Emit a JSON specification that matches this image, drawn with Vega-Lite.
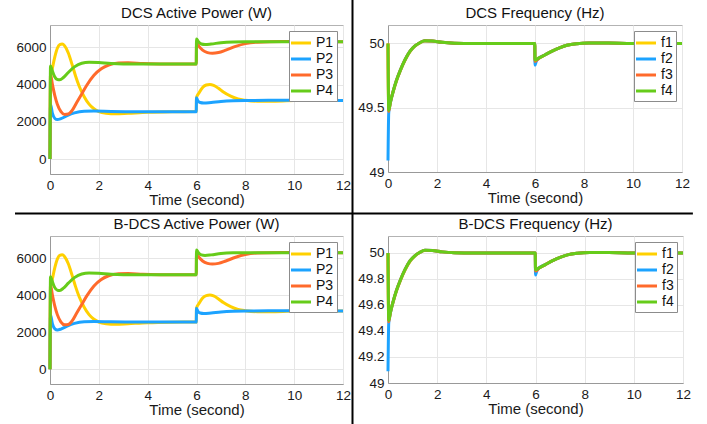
{
  "$schema": "https://vega.github.io/schema/vega-lite/v6.json",
  "padding": {"left": 13, "top": -2, "right": 0, "bottom": 0},
  "background": "white",
  "datasets": {
    "power": [
      {"t": 0, "s": "P1", "v": 0}, {"t": 0.02, "s": "P1", "v": 4400}, {"t": 0.1, "s": "P1", "v": 4900}, {"t": 0.2, "s": "P1", "v": 5500}, {"t": 0.3, "s": "P1", "v": 5950}, {"t": 0.4, "s": "P1", "v": 6150}, {"t": 0.5, "s": "P1", "v": 6180}, {"t": 0.6, "s": "P1", "v": 6080}, {"t": 0.75, "s": "P1", "v": 5700}, {"t": 0.9, "s": "P1", "v": 5100}, {"t": 1.05, "s": "P1", "v": 4450}, {"t": 1.2, "s": "P1", "v": 3900}, {"t": 1.4, "s": "P1", "v": 3350}, {"t": 1.6, "s": "P1", "v": 2950}, {"t": 1.8, "s": "P1", "v": 2700}, {"t": 2.0, "s": "P1", "v": 2550}, {"t": 2.3, "s": "P1", "v": 2460}, {"t": 2.7, "s": "P1", "v": 2430}, {"t": 3.2, "s": "P1", "v": 2460}, {"t": 4, "s": "P1", "v": 2510}, {"t": 5, "s": "P1", "v": 2540}, {"t": 5.99, "s": "P1", "v": 2550}, {"t": 6.0, "s": "P1", "v": 3300}, {"t": 6.1, "s": "P1", "v": 3550}, {"t": 6.25, "s": "P1", "v": 3850}, {"t": 6.4, "s": "P1", "v": 3980}, {"t": 6.55, "s": "P1", "v": 4010}, {"t": 6.7, "s": "P1", "v": 3960}, {"t": 6.9, "s": "P1", "v": 3800}, {"t": 7.1, "s": "P1", "v": 3600}, {"t": 7.4, "s": "P1", "v": 3380}, {"t": 7.7, "s": "P1", "v": 3230}, {"t": 8.0, "s": "P1", "v": 3160}, {"t": 8.5, "s": "P1", "v": 3110}, {"t": 9, "s": "P1", "v": 3110}, {"t": 10, "s": "P1", "v": 3140}, {"t": 12, "s": "P1", "v": 3150},
      {"t": 0, "s": "P2", "v": 0}, {"t": 0.02, "s": "P2", "v": 2950}, {"t": 0.1, "s": "P2", "v": 2450}, {"t": 0.2, "s": "P2", "v": 2180}, {"t": 0.3, "s": "P2", "v": 2120}, {"t": 0.45, "s": "P2", "v": 2170}, {"t": 0.7, "s": "P2", "v": 2330}, {"t": 1.0, "s": "P2", "v": 2480}, {"t": 1.4, "s": "P2", "v": 2570}, {"t": 1.8, "s": "P2", "v": 2580}, {"t": 2.5, "s": "P2", "v": 2560}, {"t": 3.5, "s": "P2", "v": 2545}, {"t": 5.99, "s": "P2", "v": 2545}, {"t": 6.0, "s": "P2", "v": 3300}, {"t": 6.05, "s": "P2", "v": 3150}, {"t": 6.15, "s": "P2", "v": 3040}, {"t": 6.3, "s": "P2", "v": 3010}, {"t": 6.6, "s": "P2", "v": 3040}, {"t": 7.0, "s": "P2", "v": 3090}, {"t": 7.5, "s": "P2", "v": 3130}, {"t": 8, "s": "P2", "v": 3150}, {"t": 9, "s": "P2", "v": 3155}, {"t": 12, "s": "P2", "v": 3150},
      {"t": 0, "s": "P3", "v": 0}, {"t": 0.02, "s": "P3", "v": 4550}, {"t": 0.1, "s": "P3", "v": 4000}, {"t": 0.2, "s": "P3", "v": 3400}, {"t": 0.3, "s": "P3", "v": 2950}, {"t": 0.45, "s": "P3", "v": 2550}, {"t": 0.6, "s": "P3", "v": 2400}, {"t": 0.75, "s": "P3", "v": 2420}, {"t": 0.9, "s": "P3", "v": 2600}, {"t": 1.1, "s": "P3", "v": 3050}, {"t": 1.3, "s": "P3", "v": 3500}, {"t": 1.5, "s": "P3", "v": 3950}, {"t": 1.8, "s": "P3", "v": 4500}, {"t": 2.1, "s": "P3", "v": 4850}, {"t": 2.4, "s": "P3", "v": 5050}, {"t": 2.8, "s": "P3", "v": 5160}, {"t": 3.2, "s": "P3", "v": 5170}, {"t": 3.8, "s": "P3", "v": 5130}, {"t": 4.5, "s": "P3", "v": 5110}, {"t": 5.99, "s": "P3", "v": 5100}, {"t": 6.0, "s": "P3", "v": 6250}, {"t": 6.1, "s": "P3", "v": 6050}, {"t": 6.25, "s": "P3", "v": 5850}, {"t": 6.45, "s": "P3", "v": 5720}, {"t": 6.65, "s": "P3", "v": 5680}, {"t": 6.9, "s": "P3", "v": 5720}, {"t": 7.2, "s": "P3", "v": 5850}, {"t": 7.6, "s": "P3", "v": 6050}, {"t": 8.0, "s": "P3", "v": 6200}, {"t": 8.5, "s": "P3", "v": 6280}, {"t": 9.5, "s": "P3", "v": 6310}, {"t": 12, "s": "P3", "v": 6300},
      {"t": 0, "s": "P4", "v": 0}, {"t": 0.02, "s": "P4", "v": 5000}, {"t": 0.08, "s": "P4", "v": 4800}, {"t": 0.18, "s": "P4", "v": 4450}, {"t": 0.3, "s": "P4", "v": 4270}, {"t": 0.4, "s": "P4", "v": 4260}, {"t": 0.55, "s": "P4", "v": 4380}, {"t": 0.75, "s": "P4", "v": 4650}, {"t": 1.0, "s": "P4", "v": 4950}, {"t": 1.3, "s": "P4", "v": 5150}, {"t": 1.6, "s": "P4", "v": 5200}, {"t": 2.0, "s": "P4", "v": 5180}, {"t": 2.5, "s": "P4", "v": 5130}, {"t": 3.5, "s": "P4", "v": 5100}, {"t": 5.99, "s": "P4", "v": 5100}, {"t": 6.0, "s": "P4", "v": 6450}, {"t": 6.08, "s": "P4", "v": 6300}, {"t": 6.2, "s": "P4", "v": 6180}, {"t": 6.35, "s": "P4", "v": 6150}, {"t": 6.6, "s": "P4", "v": 6180}, {"t": 7.0, "s": "P4", "v": 6250}, {"t": 7.5, "s": "P4", "v": 6290}, {"t": 8, "s": "P4", "v": 6300}, {"t": 12, "s": "P4", "v": 6300}
    ],
    "freq": [
      {"t": 0, "s": "f1", "v": 50.0}, {"t": 0.03, "s": "f1", "v": 49.49}, {"t": 0.1, "s": "f1", "v": 49.545}, {"t": 0.2, "s": "f1", "v": 49.615}, {"t": 0.35, "s": "f1", "v": 49.71}, {"t": 0.5, "s": "f1", "v": 49.785}, {"t": 0.7, "s": "f1", "v": 49.87}, {"t": 0.9, "s": "f1", "v": 49.935}, {"t": 1.1, "s": "f1", "v": 49.978}, {"t": 1.3, "s": "f1", "v": 50.004}, {"t": 1.5, "s": "f1", "v": 50.019}, {"t": 1.8, "s": "f1", "v": 50.018}, {"t": 2.2, "s": "f1", "v": 50.008}, {"t": 2.7, "s": "f1", "v": 50.002}, {"t": 3.5, "s": "f1", "v": 50.0}, {"t": 5.99, "s": "f1", "v": 50.0}, {"t": 6.0, "s": "f1", "v": 49.87}, {"t": 6.15, "s": "f1", "v": 49.885}, {"t": 6.4, "s": "f1", "v": 49.91}, {"t": 6.7, "s": "f1", "v": 49.94}, {"t": 7.0, "s": "f1", "v": 49.965}, {"t": 7.3, "s": "f1", "v": 49.985}, {"t": 7.7, "s": "f1", "v": 49.998}, {"t": 8.2, "s": "f1", "v": 50.004}, {"t": 9, "s": "f1", "v": 50.003}, {"t": 10, "s": "f1", "v": 50.0}, {"t": 12, "s": "f1", "v": 50.0},
      {"t": 0, "s": "f2", "v": 49.09}, {"t": 0.03, "s": "f2", "v": 49.46}, {"t": 0.1, "s": "f2", "v": 49.54}, {"t": 0.2, "s": "f2", "v": 49.62}, {"t": 0.35, "s": "f2", "v": 49.715}, {"t": 0.5, "s": "f2", "v": 49.79}, {"t": 0.7, "s": "f2", "v": 49.875}, {"t": 0.9, "s": "f2", "v": 49.94}, {"t": 1.1, "s": "f2", "v": 49.98}, {"t": 1.3, "s": "f2", "v": 50.005}, {"t": 1.5, "s": "f2", "v": 50.02}, {"t": 1.8, "s": "f2", "v": 50.018}, {"t": 2.2, "s": "f2", "v": 50.008}, {"t": 2.7, "s": "f2", "v": 50.002}, {"t": 3.5, "s": "f2", "v": 50.0}, {"t": 5.99, "s": "f2", "v": 50.0}, {"t": 6.0, "s": "f2", "v": 49.83}, {"t": 6.05, "s": "f2", "v": 49.86}, {"t": 6.15, "s": "f2", "v": 49.885}, {"t": 6.4, "s": "f2", "v": 49.91}, {"t": 6.7, "s": "f2", "v": 49.94}, {"t": 7.0, "s": "f2", "v": 49.965}, {"t": 7.3, "s": "f2", "v": 49.985}, {"t": 7.7, "s": "f2", "v": 49.998}, {"t": 8.2, "s": "f2", "v": 50.004}, {"t": 9, "s": "f2", "v": 50.003}, {"t": 10, "s": "f2", "v": 50.0}, {"t": 12, "s": "f2", "v": 50.0},
      {"t": 0, "s": "f3", "v": 50.0}, {"t": 0.03, "s": "f3", "v": 49.47}, {"t": 0.1, "s": "f3", "v": 49.545}, {"t": 0.2, "s": "f3", "v": 49.62}, {"t": 0.35, "s": "f3", "v": 49.715}, {"t": 0.5, "s": "f3", "v": 49.79}, {"t": 0.7, "s": "f3", "v": 49.875}, {"t": 0.9, "s": "f3", "v": 49.94}, {"t": 1.1, "s": "f3", "v": 49.98}, {"t": 1.3, "s": "f3", "v": 50.005}, {"t": 1.5, "s": "f3", "v": 50.02}, {"t": 1.8, "s": "f3", "v": 50.018}, {"t": 2.2, "s": "f3", "v": 50.008}, {"t": 2.7, "s": "f3", "v": 50.002}, {"t": 3.5, "s": "f3", "v": 50.0}, {"t": 5.99, "s": "f3", "v": 50.0}, {"t": 6.0, "s": "f3", "v": 49.86}, {"t": 6.15, "s": "f3", "v": 49.883}, {"t": 6.4, "s": "f3", "v": 49.91}, {"t": 6.7, "s": "f3", "v": 49.94}, {"t": 7.0, "s": "f3", "v": 49.965}, {"t": 7.3, "s": "f3", "v": 49.985}, {"t": 7.7, "s": "f3", "v": 49.998}, {"t": 8.2, "s": "f3", "v": 50.004}, {"t": 9, "s": "f3", "v": 50.003}, {"t": 10, "s": "f3", "v": 50.0}, {"t": 12, "s": "f3", "v": 50.0},
      {"t": 0, "s": "f4", "v": 50.0}, {"t": 0.03, "s": "f4", "v": 49.48}, {"t": 0.1, "s": "f4", "v": 49.545}, {"t": 0.2, "s": "f4", "v": 49.62}, {"t": 0.35, "s": "f4", "v": 49.715}, {"t": 0.5, "s": "f4", "v": 49.79}, {"t": 0.7, "s": "f4", "v": 49.875}, {"t": 0.9, "s": "f4", "v": 49.94}, {"t": 1.1, "s": "f4", "v": 49.98}, {"t": 1.3, "s": "f4", "v": 50.005}, {"t": 1.5, "s": "f4", "v": 50.02}, {"t": 1.8, "s": "f4", "v": 50.018}, {"t": 2.2, "s": "f4", "v": 50.008}, {"t": 2.7, "s": "f4", "v": 50.002}, {"t": 3.5, "s": "f4", "v": 50.0}, {"t": 5.99, "s": "f4", "v": 50.0}, {"t": 6.0, "s": "f4", "v": 49.87}, {"t": 6.15, "s": "f4", "v": 49.885}, {"t": 6.4, "s": "f4", "v": 49.91}, {"t": 6.7, "s": "f4", "v": 49.94}, {"t": 7.0, "s": "f4", "v": 49.965}, {"t": 7.3, "s": "f4", "v": 49.985}, {"t": 7.7, "s": "f4", "v": 49.998}, {"t": 8.2, "s": "f4", "v": 50.004}, {"t": 9, "s": "f4", "v": 50.003}, {"t": 10, "s": "f4", "v": 50.0}, {"t": 12, "s": "f4", "v": 50.0}
    ]
  },
  "bounds": "flush",
  "columns": 2,
  "spacing": {"row": 62, "column": 45},
  "resolve": {"scale": {"x": "independent", "y": "independent", "color": "independent"}, "legend": {"color": "independent"}, "axis": {"x": "independent", "y": "independent"}},
  "concat": [
    {
      "width": 293, "height": 149,
      "title": {"text": "DCS Active Power (W)", "offset": -22},
      "layer": [
        {
          "data": {"name": "power"},
          "mark": {"type": "line", "strokeWidth": 3, "interpolate": "monotone"},
          "encoding": {
            "x": {"field": "t", "type": "quantitative", "scale": {"domain": [0, 12], "nice": false}, "axis": {"title": "Time (second)", "values": [0, 2, 4, 6, 8, 10, 12]}},
            "y": {"field": "v", "type": "quantitative", "scale": {"domain": [-800, 7200], "nice": false, "zero": false}, "axis": {"title": null, "values": [0, 2000, 4000, 6000], "format": "d"}},
            "color": {"field": "s", "type": "nominal", "scale": {"domain": ["P1", "P2", "P3", "P4"], "range": ["#FFD000", "#1CA3FF", "#FF6A2B", "#66CC1A"]}, "legend": {"title": null}}
          }
        },
        {
          "data": {"values": [{}]},
          "mark": {"type": "rule", "color": "black", "strokeWidth": 2},
          "encoding": {"x": {"datum": 12.389}, "y": {"datum": 8542}, "y2": {"datum": -14223}}
        },
        {
          "data": {"values": [{}]},
          "mark": {"type": "rule", "color": "black", "strokeWidth": 2},
          "encoding": {"x": {"datum": -1.433}, "x2": {"datum": 26.33}, "y": {"datum": -2921}}
        }
      ]
    },
    {
      "width": 294, "height": 147,
      "title": "DCS Frequency (Hz)",
      "data": {"name": "freq"},
      "mark": {"type": "line", "strokeWidth": 3, "interpolate": "monotone"},
      "encoding": {
        "x": {"field": "t", "type": "quantitative", "scale": {"domain": [0, 12], "nice": false}, "axis": {"title": "Time (second)", "values": [0, 2, 4, 6, 8, 10, 12]}},
        "y": {"field": "v", "type": "quantitative", "scale": {"domain": [49, 50.143], "nice": false, "zero": false}, "axis": {"title": null, "values": [49, 49.5, 50], "format": "~g"}},
        "color": {"field": "s", "type": "nominal", "scale": {"domain": ["f1", "f2", "f3", "f4"], "range": ["#FFD000", "#1CA3FF", "#FF6A2B", "#66CC1A"]}, "legend": {"title": null}}
      }
    },
    {
      "width": 293, "height": 148,
      "title": "B-DCS Active Power (W)",
      "data": {"name": "power"},
      "mark": {"type": "line", "strokeWidth": 3, "interpolate": "monotone"},
      "encoding": {
        "x": {"field": "t", "type": "quantitative", "scale": {"domain": [0, 12], "nice": false}, "axis": {"title": "Time (second)", "values": [0, 2, 4, 6, 8, 10, 12]}},
        "y": {"field": "v", "type": "quantitative", "scale": {"domain": [-800, 7200], "nice": false, "zero": false}, "axis": {"title": null, "values": [0, 2000, 4000, 6000], "format": "d"}},
        "color": {"field": "s", "type": "nominal", "scale": {"domain": ["P1", "P2", "P3", "P4"], "range": ["#FFD000", "#1CA3FF", "#FF6A2B", "#66CC1A"]}, "legend": {"title": null}}
      }
    },
    {
      "width": 295, "height": 147,
      "title": "B-DCS Frequency (Hz)",
      "data": {"name": "freq"},
      "mark": {"type": "line", "strokeWidth": 3, "interpolate": "monotone"},
      "encoding": {
        "x": {"field": "t", "type": "quantitative", "scale": {"domain": [0, 12], "nice": false}, "axis": {"title": "Time (second)", "values": [0, 2, 4, 6, 8, 10, 12]}},
        "y": {"field": "v", "type": "quantitative", "scale": {"domain": [49, 50.13], "nice": false, "zero": false}, "axis": {"title": null, "values": [49, 49.2, 49.4, 49.6, 49.8, 50], "format": "~g"}},
        "color": {"field": "s", "type": "nominal", "scale": {"domain": ["f1", "f2", "f3", "f4"], "range": ["#FFD000", "#1CA3FF", "#FF6A2B", "#66CC1A"]}, "legend": {"title": null}}
      }
    }
  ],
  "config": {
    "font": "Liberation Sans",
    "view": {"stroke": "#b3b3b3"},
    "title": {"font": "Liberation Sans", "fontSize": 15, "fontWeight": "normal", "color": "#111", "offset": 4, "anchor": "middle", "frame": "group"},
    "axis": {"labelFont": "Liberation Sans", "labelFontSize": 13.5, "labelColor": "#1a1a1a", "titleFont": "Liberation Sans", "titleFontSize": 15, "titleFontWeight": "normal", "titleColor": "#1a1a1a", "ticks": false, "labelPadding": 4, "titlePadding": 1, "gridColor": "#e6e6e6", "domainColor": "#999999", "labelFlush": false, "labelOverlap": false},
    "legend": {"orient": "top-right", "offset": 6, "fillColor": "white", "strokeColor": "#8c8c8c", "padding": 3, "symbolType": "M-1.33,0L1.33,0", "symbolStrokeWidth": 3, "symbolSize": 225, "labelFont": "Liberation Sans", "labelFontSize": 14, "labelColor": "#111", "rowPadding": 0, "labelOffset": 6}
  }
}
